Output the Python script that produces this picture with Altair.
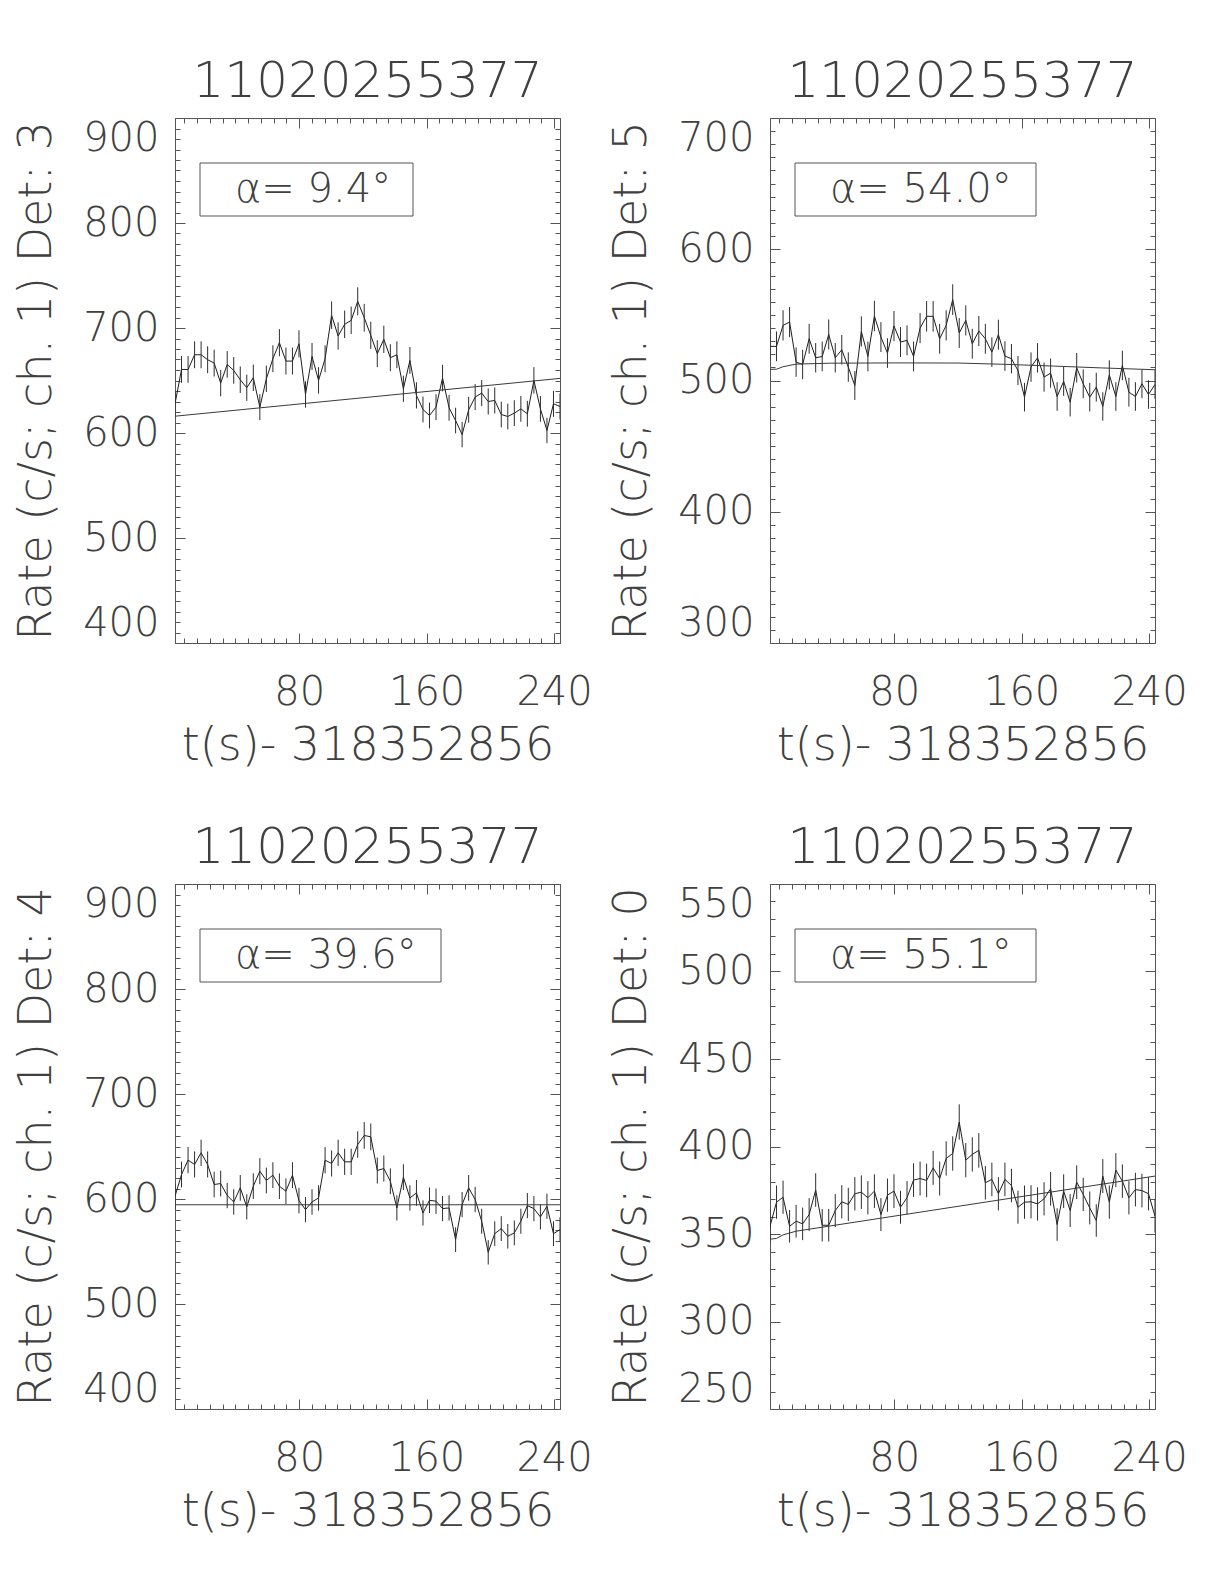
import altair as alt
import pandas as pd

# ---------------- data ----------------
t = [2.05, 6.14, 10.24, 14.34, 18.43, 22.53, 26.62, 30.72, 34.82, 38.91,
     43.01, 47.10, 51.20, 55.30, 59.39, 63.49, 67.58, 71.68, 75.78, 79.87,
     83.97, 88.06, 92.16, 96.26, 100.35, 104.45, 108.54, 112.64, 116.74, 120.83,
     124.93, 129.02, 133.12, 137.22, 141.31, 145.41, 149.50, 153.60, 157.70, 161.79,
     165.89, 169.98, 174.08, 178.18, 182.27, 186.37, 190.46, 194.56, 198.66, 202.75,
     206.85, 210.94, 215.04, 219.14, 223.23, 227.33, 231.42, 235.52, 239.62, 243.71]

panel_title = "11020255377"
x_title = "t(s)- 318352856"
x_major = [80, 160, 240]

dets = [3, 5, 4, 0]
alphas = ["9.4", "54.0", "39.6", "55.1"]

rate_det3 = [627.8, 660.5, 660.5, 674.5, 674.5, 669.8, 666.6, 647.5, 665.3, 659.6,
             650.7, 643.1, 652.6, 624.6, 651.6, 670.7, 686.0, 668.5, 668.5, 685.0,
             636.7, 672.9, 650.1, 670.7, 712.1, 692.4, 703.5, 707.3, 725.4, 709.8,
             693.0, 675.5, 689.2, 671.7, 674.5, 642.1, 669.1, 635.8, 622.4, 616.7,
             624.6, 652.3, 624.0, 611.9, 598.5, 622.1, 634.2, 638.0, 630.0, 631.0,
             617.6, 615.7, 618.9, 623.0, 618.3, 650.1, 623.0, 602.4, 627.8, 625.3]
err_det3 = [12.4, 12.7, 12.7, 12.8, 12.8, 12.8, 12.8, 12.6, 12.7, 12.7,
            12.6, 12.5, 12.6, 12.3, 12.6, 12.8, 12.9, 12.8, 12.8, 12.9,
            12.5, 12.8, 12.6, 12.8, 13.2, 13.0, 13.1, 13.1, 13.3, 13.2,
            13.0, 12.8, 13.0, 12.8, 12.8, 12.5, 12.8, 12.5, 12.3, 12.3,
            12.3, 12.6, 12.3, 12.2, 12.1, 12.3, 12.4, 12.5, 12.4, 12.4,
            12.3, 12.3, 12.3, 12.3, 12.3, 12.6, 12.3, 12.1, 12.4, 12.4]
fit_t_det3 = [2.05, 243.71]
fit_v_det3 = [616.0, 652.0]

rate_det5 = [526.0, 526.0, 542.0, 544.5, 514.0, 512.2, 531.8, 517.3, 518.3, 535.1,
             517.3, 523.4, 510.2, 496.2, 537.4, 518.3, 549.1, 533.1, 520.9, 541.5,
             529.3, 530.6, 518.3, 540.0, 548.9, 548.9, 531.8, 542.0, 561.6, 536.2,
             545.8, 528.0, 537.7, 531.8, 521.6, 534.9, 518.6, 516.6, 507.6, 487.3,
             510.2, 517.3, 502.6, 505.6, 487.8, 499.3, 483.5, 509.7, 497.5, 487.3,
             494.9, 480.2, 504.3, 487.8, 511.5, 491.1, 487.8, 497.5, 489.3, 497.0]
err_det5 = [11.3, 11.3, 11.5, 11.5, 11.2, 11.2, 11.4, 11.2, 11.3, 11.4,
            11.2, 11.3, 11.2, 11.0, 11.5, 11.3, 11.6, 11.4, 11.3, 11.5,
            11.4, 11.4, 11.3, 11.5, 11.6, 11.6, 11.4, 11.5, 11.7, 11.4,
            11.5, 11.4, 11.5, 11.4, 11.3, 11.4, 11.3, 11.2, 11.1, 10.9,
            11.2, 11.2, 11.1, 11.1, 10.9, 11.0, 10.9, 11.2, 11.0, 10.9,
            11.0, 10.8, 11.1, 10.9, 11.2, 11.0, 10.9, 11.0, 10.9, 11.0]
fit_t_det5 = [2.05, 6.14, 10.24, 18.43, 40.0, 80.0, 120.0, 150.0, 180.0, 210.0, 243.71]
fit_v_det5 = [508.5, 508.6, 510.5, 512.5, 513.2, 513.4, 513.3, 512.3, 511.0, 509.6, 508.2]

rate_det4 = [602.6, 623.3, 637.0, 632.9, 644.0, 632.9, 613.8, 614.7, 603.3, 597.2,
             610.6, 592.5, 612.2, 626.5, 617.6, 622.7, 612.2, 607.4, 622.7, 598.5,
             589.9, 597.2, 601.0, 637.0, 633.8, 644.0, 635.4, 635.4, 651.9, 660.5,
             659.2, 627.1, 629.0, 616.9, 591.5, 620.8, 601.0, 605.8, 586.7, 598.8,
             597.9, 590.9, 591.5, 561.3, 594.7, 610.6, 599.5, 578.8, 549.2, 567.0,
             571.8, 564.5, 567.7, 578.8, 593.7, 590.9, 582.9, 593.1, 567.0, 570.8]
err_det4 = [12.1, 12.3, 12.5, 12.4, 12.5, 12.4, 12.2, 12.3, 12.1, 12.1,
            12.2, 12.0, 12.2, 12.4, 12.3, 12.3, 12.2, 12.2, 12.3, 12.1,
            12.0, 12.1, 12.1, 12.5, 12.4, 12.5, 12.5, 12.5, 12.6, 12.7,
            12.7, 12.4, 12.4, 12.3, 12.0, 12.3, 12.1, 12.2, 12.0, 12.1,
            12.1, 12.0, 12.0, 11.7, 12.0, 12.2, 12.1, 11.9, 11.6, 11.8,
            11.8, 11.7, 11.8, 11.9, 12.0, 12.0, 11.9, 12.0, 11.8, 11.8]
fit_t_det4 = [2.05, 243.71]
fit_v_det4 = [594.5, 594.5]

rate_det0 = [354.4, 368.2, 371.0, 354.4, 357.3, 355.8, 361.1, 375.1, 355.0, 355.0,
             363.4, 368.4, 366.9, 373.0, 373.9, 370.7, 374.5, 361.1, 372.2, 374.5,
             365.3, 370.7, 380.8, 381.7, 380.6, 387.8, 381.7, 393.2, 396.0, 414.0,
             392.2, 395.5, 397.8, 379.3, 381.2, 373.0, 381.2, 377.7, 365.3, 368.2,
             368.4, 367.2, 370.1, 375.8, 355.4, 374.5, 363.4, 379.6, 372.6, 364.9,
             357.7, 383.1, 368.2, 386.5, 380.2, 370.7, 375.4, 374.8, 373.0, 360.2]
err_det0 = [9.3, 9.5, 9.5, 9.3, 9.3, 9.3, 9.4, 9.6, 9.3, 9.3,
            9.4, 9.5, 9.5, 9.5, 9.6, 9.5, 9.6, 9.4, 9.5, 9.6,
            9.4, 9.5, 9.6, 9.7, 9.6, 9.7, 9.7, 9.8, 9.8, 10.1,
            9.8, 9.8, 9.9, 9.6, 9.6, 9.5, 9.6, 9.6, 9.4, 9.5,
            9.5, 9.5, 9.5, 9.6, 9.3, 9.6, 9.4, 9.6, 9.5, 9.4,
            9.3, 9.7, 9.5, 9.7, 9.6, 9.5, 9.6, 9.6, 9.5, 9.4]
fit_t_det0 = [2.05, 6.14, 10.24, 18.43, 243.71]
fit_v_det0 = [347.0, 347.5, 349.5, 351.6, 383.1]

y_domains = [[400, 900], [300, 700], [400, 900], [250, 550]]
y_majors = [[400, 500, 600, 700, 800, 900],
            [300, 400, 500, 600, 700],
            [400, 500, 600, 700, 800, 900],
            [250, 300, 350, 400, 450, 500, 550]]

# ---------------- style ----------------
W, H = 385, 525
FONT = "DejaVu Sans ExtraLight, DejaVu Sans"
FW = 200
TXT = "#404040"
AX = "#555555"
x_minor = list(range(8, 244, 8))


def panel(rate, err, fit_t, fit_v, det, alpha, ydom, ymaj, boxw):
    df = pd.DataFrame({"t": t, "rate": rate,
                       "lo": [r - e for r, e in zip(rate, err)],
                       "hi": [r + e for r, e in zip(rate, err)]})
    fit = pd.DataFrame({"t": fit_t, "rate": fit_v})
    ymin = list(range(ydom[0], ydom[1] + 1, 10))
    xs = alt.Scale(domain=[t[0], t[-1]], nice=False, zero=False)
    ys = alt.Scale(domain=ydom, nice=False, zero=False)

    ax_x = alt.Axis(orient="bottom", values=x_major, title=x_title, ticks=False, tickSize=0,
                    domain=False, grid=False, labelFontSize=40, labelFont=FONT,
                    labelFontWeight=FW, labelColor=TXT, labelPadding=29,
                    titleFontSize=46, titleFont=FONT, titleFontWeight=FW,
                    titleColor=TXT, titlePadding=11, labelAngle=0)
    ax_y = alt.Axis(orient="left", values=ymaj, format="d",
                    title=f"Rate (c/s; ch. 1) Det: {det}", ticks=False, tickSize=0,
                    domain=False, grid=False, labelFontSize=40, labelFont=FONT,
                    labelFontWeight=FW, labelColor=TXT, labelPadding=16,
                    labelFlush=True, titleFontSize=46, titleFont=FONT,
                    titleFontWeight=FW, titleColor=TXT, titlePadding=22)

    base = alt.Chart(df)
    line = base.mark_line(color="#1e1e1e", strokeWidth=1, clip=True).encode(
        x=alt.X("t:Q", scale=xs, axis=ax_x),
        y=alt.Y("rate:Q", scale=ys, axis=ax_y))
    bars = base.mark_rule(color="#2e2e2e", strokeWidth=1, clip=True).encode(
        x=alt.X("t:Q", scale=xs, axis=None),
        y=alt.Y("lo:Q", scale=ys, axis=None),
        y2="hi:Q")
    fitl = alt.Chart(fit).mark_line(color="#3a3a3a", strokeWidth=1, clip=True).encode(
        x=alt.X("t:Q", scale=xs, axis=None),
        y=alt.Y("rate:Q", scale=ys, axis=None))

    def ticks(xo, yo, xv, yv, size):
        return base.mark_point(opacity=0).encode(
            x=alt.X("t:Q", scale=xs,
                    axis=alt.Axis(orient=xo, offset=-H, values=xv, labels=False,
                                  ticks=True, tickSize=size, tickColor=AX,
                                  domain=False, grid=False, title=None)),
            y=alt.Y("rate:Q", scale=ys,
                    axis=alt.Axis(orient=yo, offset=-W, values=yv, labels=False,
                                  ticks=True, tickSize=size, tickColor=AX,
                                  domain=False, grid=False, title=None)))

    t1 = ticks("top", "right", x_major, ymaj, 10)
    t2 = ticks("top", "right", x_minor, ymin, 5)
    t3 = ticks("bottom", "left", x_major, ymaj, 10)
    t4 = ticks("bottom", "left", x_minor, ymin, 5)

    lab = pd.DataFrame({"label": [f"\u03b1= {alpha}\u00b0"]})
    box = alt.Chart(lab).mark_rect(fill="white", fillOpacity=0, stroke=AX,
                                   strokeWidth=1).encode(
        x=alt.value(25), x2=alt.value(25 + boxw), y=alt.value(45), y2=alt.value(98))
    txt = alt.Chart(lab).mark_text(align="left", baseline="middle", fontSize=40,
                                   font=FONT, fontWeight=FW, color=TXT).encode(
        x=alt.value(60), y=alt.value(72), text="label:N")

    return alt.layer(line, bars, fitl, t1, t2, t3, t4, box, txt).resolve_axis(
        x="independent", y="independent").properties(
        width=W, height=H,
        title=alt.TitleParams(text=panel_title, fontSize=50, font=FONT,
                              fontWeight=FW, color=TXT, anchor="middle", offset=11))


p0 = panel(rate_det3, err_det3, fit_t_det3, fit_v_det3, dets[0], alphas[0], y_domains[0], y_majors[0], 213)
p1 = panel(rate_det5, err_det5, fit_t_det5, fit_v_det5, dets[1], alphas[1], y_domains[1], y_majors[1], 241)
p2 = panel(rate_det4, err_det4, fit_t_det4, fit_v_det4, dets[2], alphas[2], y_domains[2], y_majors[2], 241)
p3 = panel(rate_det0, err_det0, fit_t_det0, fit_v_det0, dets[3], alphas[3], y_domains[3], y_majors[3], 241)

chart = alt.concat(p0, p1, p2, p3, columns=2, spacing={"row": 241, "column": 210},
                   bounds="flush").properties(
    padding={"left": 5, "top": 48, "right": 5, "bottom": 5}
).configure_view(stroke=AX, strokeWidth=1)

chart.save("out.html", embed_options={"renderer": "svg", "actions": False})
